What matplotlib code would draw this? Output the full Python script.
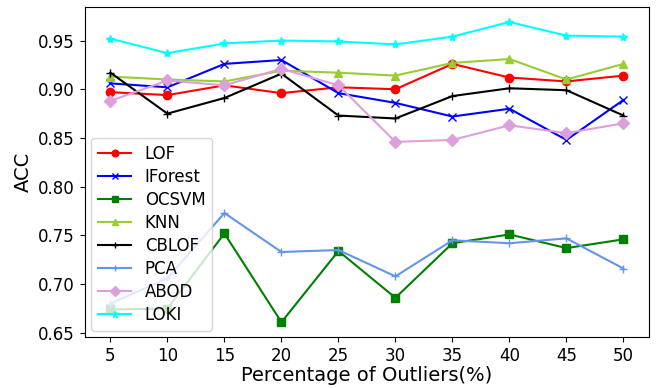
import matplotlib
matplotlib.use("Agg")
import matplotlib.pyplot as plt

x = [5, 10, 15, 20, 25, 30, 35, 40, 45, 50]
lof = [0.897, 0.894, 0.904, 0.896, 0.902, 0.900, 0.926, 0.912, 0.908, 0.914]
iforest = [0.906, 0.902, 0.926, 0.930, 0.896, 0.886, 0.872, 0.880, 0.848, 0.889]
ocsvm = [0.674, 0.675, 0.752, 0.661, 0.734, 0.686, 0.742, 0.751, 0.737, 0.746]
knn = [0.913, 0.910, 0.908, 0.919, 0.917, 0.914, 0.927, 0.931, 0.910, 0.926]
cblof = [0.917, 0.875, 0.891, 0.916, 0.873, 0.870, 0.893, 0.901, 0.899, 0.873]
pca = [0.680, 0.706, 0.773, 0.733, 0.735, 0.708, 0.745, 0.742, 0.747, 0.716]
abod = [0.888, 0.909, 0.904, 0.921, 0.904, 0.846, 0.848, 0.863, 0.855, 0.865]
loki = [0.952, 0.937, 0.947, 0.950, 0.949, 0.946, 0.954, 0.969, 0.955, 0.954]

series = [
    ("LOF", lof, "red", "o"),
    ("IForest", iforest, "blue", "x"),
    ("OCSVM", ocsvm, "green", "s"),
    ("KNN", knn, "yellowgreen", "^"),
    ("CBLOF", cblof, "black", "+"),
    ("PCA", pca, "cornflowerblue", "+"),
    ("ABOD", abod, "plum", "D"),
    ("LOKI", loki, "cyan", "*"),
]

fig = plt.figure(figsize=(6.57, 3.88), dpi=100)
ax = fig.add_axes([0.129, 0.131, 0.859, 0.851])
for name, vals, c, m in series:
    ax.plot(x, vals, color=c, marker=m, label=name, linewidth=1.5, markersize=6)

ax.set_xticks(x)
ax.set_yticks([0.65, 0.70, 0.75, 0.80, 0.85, 0.90, 0.95])
ax.tick_params(labelsize=12)
ax.set_xlabel("Percentage of Outliers(%)", fontsize=14, labelpad=1)
ax.set_ylabel("ACC", fontsize=14)
ax.legend(loc="lower left", fontsize=12, framealpha=0.8, labelspacing=0.3,
          borderaxespad=0.4, markerscale=0.8)
fig.savefig("out.png", dpi=100)
